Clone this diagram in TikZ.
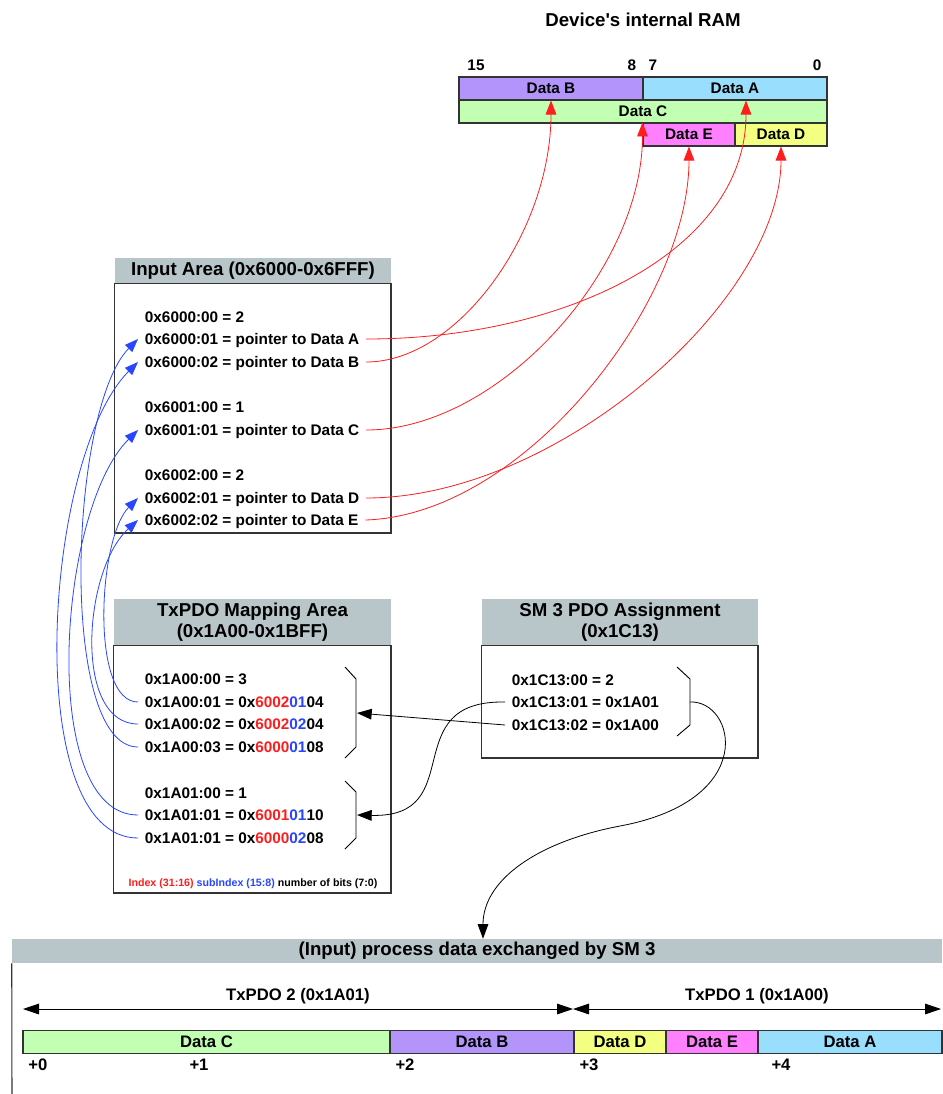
\documentclass[tikz,border=0pt]{standalone}
\usepackage{fontspec}
\setmainfont{Liberation Sans}
\usepackage{tikz}
\usetikzlibrary{arrows.meta,calc}
\usepackage{xcolor}
\definecolor{hdrgray}{RGB}{184,198,202}
\definecolor{dataA}{RGB}{153,222,252}
\definecolor{dataB}{RGB}{178,148,250}
\definecolor{dataC}{RGB}{194,255,178}
\definecolor{dataD}{RGB}{242,255,128}
\definecolor{dataE}{RGB}{255,128,255}
\definecolor{ptrred}{RGB}{255,30,30}
\definecolor{mapblue}{RGB}{40,70,255}
\newcommand{\idxc}[1]{\textcolor{ptrred}{#1}}
\newcommand{\subc}[1]{\textcolor{mapblue}{#1}}
\tikzset{
  cellw/.style={minimum width=#1*0.75pt},
  cellh/.style={minimum height=#1*0.75pt},
  cell/.style={draw=black!80, line width=0.8pt, inner sep=0pt, cellh=23, font=\fontsize{11.5}{13}\selectfont\bfseries},
  hdr/.style={fill=hdrgray, inner sep=0pt, align=center, font=\fontsize{14}{15.75}\selectfont\bfseries},
  box/.style={draw=black!80, line width=0.8pt},
  brk/.style={draw=black, line width=0.7pt},
  ln/.style={anchor=west, inner xsep=5pt, inner ysep=0pt, text height=8.2pt, text depth=0pt, font=\fontsize{11.5}{13}\selectfont\bfseries},
  big/.style={font=\fontsize{12.5}{14}\selectfont\bfseries},
  ptr/.style={ptrred, line width=0.6pt, -{Triangle[length=10.5pt,width=8pt]}},
  map/.style={mapblue, line width=0.6pt, -{Triangle[length=10pt,width=7.5pt]}},
  blk/.style={black, line width=0.6pt, -{Triangle[length=11pt,width=8pt]}},
  dbl/.style={black, line width=0.6pt, {Triangle[length=12pt,width=8pt]}-{Triangle[length=12pt,width=8pt]}},
}
\begin{document}
\begin{tikzpicture}[x=0.75pt, y=-0.75pt]
  \useasboundingbox (0,0) rectangle (942,1094);

  % device RAM
  \node[font=\fontsize{14}{16}\selectfont\bfseries] (ramtitle) at (643,20) {Device\textquotesingle s internal RAM};
  \node[ln, anchor=center] (bit15) at (476,65) {15};
  \node[ln, anchor=center] (bit8) at (632,65) {8};
  \node[ln, anchor=center] (bit7) at (653,65) {7};
  \node[ln, anchor=center] (bit0) at (817,65) {0};
  \node[cell, cellw=184, fill=dataB] (rB) at (551,88.5) {Data B};
  \node[cell, cellw=184, fill=dataA] (rA) at (735,88.5) {Data A};
  \node[cell, cellw=368, fill=dataC] (rC) at (643,111.5) {Data C};
  \node[cell, cellw=92, fill=dataE] (rE) at (689,134.5) {Data E};
  \node[cell, cellw=92, fill=dataD] (rD) at (781,134.5) {Data D};

  % input area
  \node[hdr, cellw=276, cellh=25] (inhdr) at (253,270.5) {Input Area (0x6000-0x6FFF)};
  \draw[box] (inhdr.south west) rectangle (391,533);
  \node[ln] (in6000s0) at (138,317) {0x6000:00 = 2};
  \node[ln] (in6000s1) at (138,339) {0x6000:01 = pointer to Data A};
  \node[ln] (in6000s2) at (138,362) {0x6000:02 = pointer to Data B};
  \node[ln] (in6001s0) at (138,407) {0x6001:00 = 1};
  \node[ln] (in6001s1) at (138,430) {0x6001:01 = pointer to Data C};
  \node[ln] (in6002s0) at (138,475) {0x6002:00 = 2};
  \node[ln] (in6002s1) at (138,498) {0x6002:01 = pointer to Data D};
  \node[ln] (in6002s2) at (138,520) {0x6002:02 = pointer to Data E};

  % TxPDO mapping
  \node[hdr, cellw=277, cellh=47] (maphdr) at (252.5,622) {TxPDO Mapping Area\\(0x1A00-0x1BFF)};
  \draw[box] (maphdr.south west) rectangle (391,893);
  \node[ln] (m1A00s0) at (138,679) {0x1A00:00 = 3};
  \node[ln] (m1A00s1) at (138,702) {0x1A00:01 = 0x\idxc{6002}\subc{01}04};
  \node[ln] (m1A00s2) at (138,724) {0x1A00:02 = 0x\idxc{6002}\subc{02}04};
  \node[ln] (m1A00s3) at (138,747) {0x1A00:03 = 0x\idxc{6000}\subc{01}08};
  \node[ln] (m1A01s0) at (138,793) {0x1A01:00 = 1};
  \node[ln] (m1A01s1) at (138,815) {0x1A01:01 = 0x\idxc{6001}\subc{01}10};
  \node[ln] (m1A01s2) at (138,838) {0x1A01:01 = 0x\idxc{6000}\subc{02}08};
  \node[font=\fontsize{8}{9}\selectfont\bfseries] (legend) at (253,884)
    {\idxc{Index (31:16)} \subc{subIndex (15:8)} number of bits (7:0)};
  \draw[brk] (345,667) -- (356,679) -- (356,747) -- (345,758);
  \draw[brk] (345,781) -- (356,792) -- (356,838) -- (345,849);
  \coordinate (br1) at (357,713);
  \coordinate (br2) at (357,815);

  % SM 3 assignment
  \node[hdr, cellw=276, cellh=47] (smhdr) at (620,622) {SM 3 PDO Assignment\\(0x1C13)};
  \draw[box] (smhdr.south west) rectangle (758,758);
  \node[ln] (sm0) at (505,680) {0x1C13:00 = 2};
  \node[ln] (sm1) at (505,702) {0x1C13:01 = 0x1A01};
  \node[ln] (sm2) at (505,725) {0x1C13:02 = 0x1A00};
  \draw[brk] (677,667) -- (690,679) -- (690,725) -- (677,736);
  \coordinate (br3) at (690,702);

  % process data
  \node[hdr, cellw=930, cellh=24] (pdhdr) at (477,951) {(Input) process data exchanged by SM 3};
  \draw[box] (pdhdr.south west) -- (12,1094);
  \coordinate (tx0) at (23,1009);
  \coordinate (txm) at (573,1009);
  \coordinate (tx1) at (941,1009);
  \draw[dbl] (tx0) -- (txm);
  \draw[dbl] (txm) -- (tx1);
  \node[big] (tx2lbl) at (298,996) {TxPDO 2 (0x1A01)};
  \node[big] (tx1lbl) at (757,996) {TxPDO 1 (0x1A00)};
  \node[cell, big, cellw=367, fill=dataC] (pC) at (206.5,1042) {Data C};
  \node[cell, big, cellw=184, fill=dataB] (pB) at (482,1042) {Data B};
  \node[cell, big, cellw=92, fill=dataD] (pD) at (620,1042) {Data D};
  \node[cell, big, cellw=92, fill=dataE] (pE) at (712,1042) {Data E};
  \node[cell, big, cellw=184, fill=dataA] (pA) at (850,1042) {Data A};
  \node[big] (off0) at (38,1065) {+0};
  \node[big] (off1) at (199,1065) {+1};
  \node[big] (off2) at (405,1065) {+2};
  \node[big] (off3) at (589,1065) {+3};
  \node[big] (off4) at (781,1065) {+4};

  % pointers into RAM
  \draw[ptr] (in6000s1.east) .. controls +(200,0) and +(0,150) .. ($(rA.south)+(11,0)$);
  \draw[ptr] (in6000s2.east) .. controls +(92,0) and +(0,131) .. (rB.south);
  \draw[ptr] (in6001s1.east) .. controls +(132,0) and +(0,148) .. (rE.north west);
  \draw[ptr] (in6002s1.east) .. controls +(192,0) and +(0,154) .. (rD.south);
  \draw[ptr] (in6002s2.east) .. controls +(160,-5) and +(0,154) .. (rE.south);

  % mapping entries
  \draw[map] (m1A00s1.west) .. controls +(-48,0) and +(-40,40) .. (in6002s1.west);
  \draw[map] (m1A00s2.west) .. controls +(-65,0) and +(-55,50) .. (in6002s2.west);
  \draw[map] (m1A00s3.west) .. controls +(-80,0) and +(-69,70) .. (in6000s1.west);
  \draw[map] (m1A01s1.west) .. controls +(-100,0) and +(-81,80) .. (in6001s1.west);
  \draw[map] (m1A01s2.west) .. controls +(-118,0) and +(-95,95) .. (in6000s2.west);

  % assignment
  \draw[blk] (sm2.west) -- (br1);
  \draw[blk] (sm1.west) .. controls +(-110,-2) and +(113,3) .. (br2);
  \draw[blk] (br3) .. controls +(45,-2) and +(140,-26) .. (620,826)
    .. controls +(-84,16) and +(0,-58) .. ($(pdhdr.north)+(6,0)$);
\end{tikzpicture}
\end{document}
